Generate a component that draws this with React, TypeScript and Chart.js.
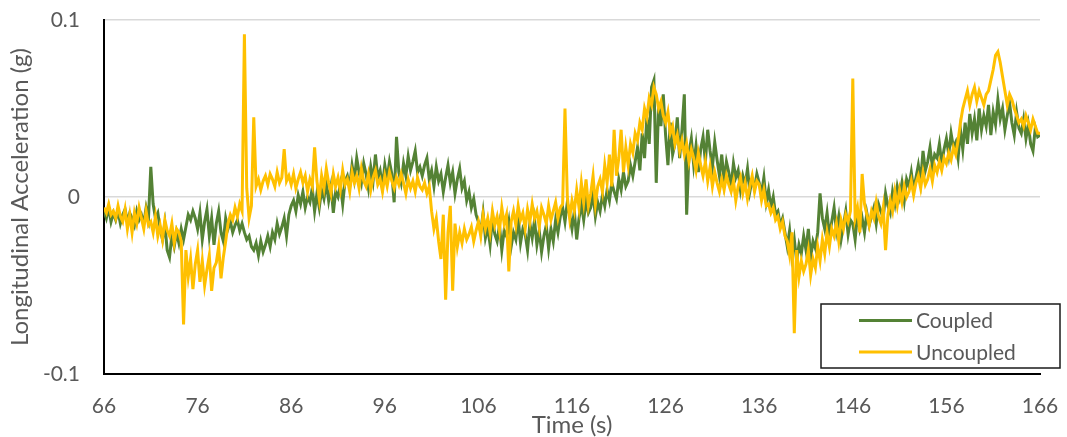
import React, { useEffect, useRef } from "react";
import { Chart, registerables } from "chart.js";

Chart.register(...registerables);

// Sampling of the traces: time of first sample and spacing (s)
const T0 = 66;
const DT = 0.25;

// Longitudinal acceleration in milli-g, one row per second (4 samples per row)
const coupledMg = [
  -8, -12, -6, -14,
  -9, -13, -8, -15,
  -10, -7, -14, -9,
  -12, -16, -8, -13,
  -10, -15, -6, -12,
  17, -4, -12, -9,
  -18, -24, -15, -30,
  -34, -22, -28, -20,
  -26, -18, -24, -17,
  -10, -13, -8, -12,
  -18, -9, -24, -14,
  -7, -22, -12, -27,
  -15, -8, -20, -25,
  -12, -18, -14, -20,
  -16, -13, -19, -15,
  -20, -24, -22, -28,
  -30, -26, -33, -25,
  -31, -27, -22, -28,
  -20, -24, -15, -21,
  -17, -12, -22, -10,
  -5, -2, -8, 1,
  -4, 3, -6, 0,
  -3, 5, -8, 2,
  -6, 4, -1, 8,
  -2, 6, -9, 3,
  0, 7, -4, 9,
  12, 6, 18, 10,
  22, 14, 8, 19,
  13, 5, 17, 9,
  24, 11, 15, 6,
  18, 10, 20, 13,
  -3, 34, 14, 8,
  19, 12, 23, 15,
  20, 26, 14, 17,
  12, 18, 22, 10,
  15, 6, 17, 9,
  13, 3, 11, 18,
  8, 14, 2, 10,
  16, 5, 9, -2,
  3, -6, -1, -10,
  -14, -20, -9, -23,
  -17, -27, -12, -21,
  -25, -16, -30, -19,
  -22, -14, -28, -20,
  -24, -12, -26, -18,
  -21, -30, -15, -23,
  -13, -27, -19, -31,
  -22, -16, -29, -18,
  -25, -13, -20, -11,
  -6, -14, -3, -10,
  -18, -8, -24, -12,
  -4, -13, -2, -9,
  -6, 2, -11, -3,
  -8, 1, -5, 4,
  -2, 8, 3, -1,
  10, 4, 14, 6,
  9, 18, 12, 20,
  28, 15, 36, 22,
  45, 30, 62, 66,
  8, 52, 40, 58,
  35, 18, 42, 24,
  30, 45, 22, 38,
  58, -10, 25, 33,
  18, 29, 14, 27,
  34, 20, 38, 26,
  17, 31, 21, 12,
  24, 9, 20, 14,
  6, 19, 11, 15,
  4, 12, 7, 16,
  3, 10, 5, 13,
  8, 2, 11, -3,
  4, -6, 0, -10,
  -8, -16, -12, -20,
  -28, -19, -33, -24,
  -36, -27, -32, -22,
  -30, -18, -34, -25,
  -29, -20, 2, -12,
  -18, -9, -22, -14,
  -6, -19, -11, -24,
  -16, -8, -21, -13,
  -15, -24, -10, -18,
  -12, -20, -9, -16,
  -11, -6, -15, -4,
  -8, -12, 2, -5,
  -9, 3, -4, 6,
  0, 8, -2, 10,
  6, 14, 4, 11,
  18, 9, 26, 15,
  20, 28, 17, 24,
  22, 30, 19, 27,
  33, 24, 36, 28,
  31, 22, 38, 27,
  42, 30, 47, 36,
  44, 32, 50, 38,
  46, 40, 52, 35,
  48, 41, 55, 44,
  50, 38, 46, 53,
  42, 35, 48, 39,
  36, 44, 33, 41,
  30, 26, 39, 34,
  35,
];

const uncoupledMg = [
  -6, -9, -4, -10,
  -8, -12, -5, -11,
  -14, -7, -18, -10,
  -20, -9, -15, -6,
  -12, -18, -8, -16,
  -14, -20, -11, -22,
  -16, -24, -13, -19,
  -22, -15, -26, -18,
  -20, -25, -72, -30,
  -45, -35, -52, -38,
  -30, -48, -36, -50,
  -41, -33, -53, -40,
  -37, -28, -46, -34,
  -25, -15, -10, -13,
  -6, -11, -4, -8,
  92, 5, -12, -5,
  45, 6, 10, 4,
  9, 12, 7, 13,
  10, 6, 14, 8,
  11, 27, 9, 12,
  7, 13, 5, 10,
  14, 8, 12, 3,
  10, 6, 28, 9,
  -1, 12, 5, 16,
  8, 2, 13, 6,
  11, 4, 15, 7,
  10, 3, 14, 8,
  12, 5, 16, 9,
  6, 13, 4, 11,
  15, 7, 10, 3,
  12, 6, 14, 9,
  5, 11, 7, 13,
  8, 2, 10, 5,
  9, 3, 11, 6,
  4, 8, 2, 6,
  -8, -18, -12, -25,
  -35, -10, -58, -20,
  -5, -53, -15, -28,
  -20, -26, -18, -24,
  -21, -17, -25, -19,
  -14, -22, -10, -18,
  -12, -20, -8, -16,
  -11, -19, -6, -15,
  -10, -42, -14, -8,
  -16, -5, -13, -9,
  -18, -7, -14, -4,
  -12, -8, -17, -6,
  -10, -15, -5, -13,
  -8, -3, -12, -6,
  -4, 50, 0, -12,
  -2, -8, 4, -6,
  8, -3, 10, -5,
  2, 12, -4, 6,
  10, 3, 18, 8,
  24, 6, 38, 12,
  22, 38, 14, 28,
  18, 30, 25, 36,
  32, 42, 38, 50,
  45, 56, 52, 62,
  58, 50, 54, 46,
  42, 48, 36, 40,
  30, 35, 26, 32,
  24, 30, 20, 27,
  22, 15, 25, 18,
  12, 20, 9, 17,
  6, 14, 8, 3,
  10, 4, 12, 7,
  3, 9, -2, 6,
  11, 2, 8, -1,
  6, 12, 3, 9,
  7, -2, 4, -5,
  -4, -9, -6, -13,
  -11, -18, -14, -22,
  -25, -33, -20, -77,
  -30, -45, -36, -42,
  -38, -30, -44, -35,
  -40, -28, -36, -24,
  -32, -20, -28, -18,
  -22, -15, -25, -13,
  -18, -10, -14, -8,
  67, -12, -6, -20,
  13, -4, -10, -16,
  -8, -12, -3, -11,
  -15, -6, -30, -10,
  -2, -8, 3, -5,
  4, -3, 6, 0,
  3, 9, 1, 8,
  12, 5, 14, 7,
  10, 16, 9, 18,
  14, 20, 15, 22,
  19, 25, 21, 28,
  24, 32, 42, 50,
  55, 60, 52, 58,
  62, 54, 60, 56,
  52, 58, 60, 66,
  72, 80, 82, 76,
  68, 60, 52, 58,
  55, 50, 46, 42,
  44, 40, 46, 42,
  38, 44, 40, 36,
  36,
];

const seriesNames = ["Coupled", "Uncoupled"];
const seriesColors = ["#548235", "#FFC000"];

const xTickValues = [66, 76, 86, 96, 106, 116, 126, 136, 146, 156, 166];
const yTickValues = [-0.1, 0, 0.1];
const yTickLabels = ["-0.1", "0", "0.1"];

const xTitle = "Time (s)";
const yTitle = "Longitudinal Acceleration (g)";

const FONT = "Lato, 'Open Sans', sans-serif";
const TEXT_COLOR = "#595959";

const W = 1067;
const H = 437;
const AREA = { left: 104, right: 1040, top: 20, bottom: 374 };

const toPoints = (mg: number[]) => mg.map((v, i) => ({ x: T0 + i * DT, y: v / 1000 }));

const boxLegend = {
  id: "boxLegend",
  afterDraw(chart: any) {
    const { ctx, chartArea } = chart;
    const left = chartArea.right - 219;
    const top = chartArea.bottom - 70;
    const w = 239;
    const h = 64;
    ctx.save();
    ctx.fillStyle = "#ffffff";
    ctx.fillRect(left, top, w, h);
    ctx.strokeStyle = "#1a1a1a";
    ctx.lineWidth = 1.5;
    ctx.strokeRect(left, top, w, h);
    ctx.font = `21px ${FONT}`;
    ctx.textBaseline = "middle";
    ctx.textAlign = "left";
    seriesNames.forEach((name, i) => {
      const y = top + 16.5 + i * 31.5;
      ctx.strokeStyle = seriesColors[i];
      ctx.lineWidth = 3;
      ctx.beginPath();
      ctx.moveTo(left + 38, y);
      ctx.lineTo(left + 91, y);
      ctx.stroke();
      ctx.fillStyle = TEXT_COLOR;
      ctx.fillText(name, left + 95, y + 1);
    });
    ctx.restore();
  },
};

export default function App() {
  const ref = useRef<HTMLCanvasElement | null>(null);

  useEffect(() => {
    const canvas = ref.current;
    if (!canvas) return;
    const chart = new Chart(canvas, {
      type: "line",
      data: {
        datasets: [
          {
            label: seriesNames[0],
            data: toPoints(coupledMg),
            borderColor: seriesColors[0],
            backgroundColor: seriesColors[0],
            borderWidth: 3,
            pointRadius: 0,
            tension: 0,
            order: 2,
          },
          {
            label: seriesNames[1],
            data: toPoints(uncoupledMg),
            borderColor: seriesColors[1],
            backgroundColor: seriesColors[1],
            borderWidth: 3,
            pointRadius: 0,
            tension: 0,
            order: 1,
          },
        ],
      },
      options: {
        animation: false,
        responsive: false,
        devicePixelRatio: 1,
        parsing: false,
        normalized: true,
        layout: { padding: { top: AREA.top, right: W - AREA.right, left: 0, bottom: 0 } },
        plugins: {
          legend: { display: false },
          tooltip: { enabled: false },
        },
        scales: {
          x: {
            type: "linear",
            min: 66,
            max: 166,
            afterBuildTicks: (s: any) => {
              s.ticks = xTickValues.map((v) => ({ value: v }));
            },
            afterFit: (s: any) => {
              s.height = H - AREA.bottom;
              s.paddingLeft = 0;
              s.paddingRight = 0;
            },
            grid: { display: false, drawTicks: false },
            border: { display: true, color: "#000000", width: 2 },
            ticks: {
              color: TEXT_COLOR,
              font: { family: FONT, size: 21 },
              padding: 20,
              maxRotation: 0,
              autoSkip: false,
              callback: (v: any) => String(v),
            },
            title: {
              display: true,
              text: xTitle,
              color: TEXT_COLOR,
              font: { family: FONT, size: 24, lineHeight: 1 },
              padding: { top: 0, bottom: 0 },
            },
          },
          y: {
            type: "linear",
            min: -0.1,
            max: 0.1,
            afterBuildTicks: (s: any) => {
              s.ticks = yTickValues.map((v) => ({ value: v }));
            },
            afterFit: (s: any) => {
              s.width = AREA.left;
              s.paddingTop = 0;
              s.paddingBottom = 0;
            },
            grid: {
              display: true,
              drawTicks: false,
              color: "#d9d9d9",
              lineWidth: 1.5,
            },
            border: { display: true, color: "#000000", width: 2 },
            ticks: {
              color: TEXT_COLOR,
              font: { family: FONT, size: 21 },
              padding: 24,
              autoSkip: false,
              callback: (_v: any, i: number) => yTickLabels[i],
            },
            title: {
              display: true,
              text: yTitle,
              color: TEXT_COLOR,
              font: { family: FONT, size: 24, lineHeight: 1 },
              padding: { top: 8, bottom: 0 },
            },
          },
        },
      },
      plugins: [boxLegend],
    });
    return () => chart.destroy();
  }, []);

  return (
    <div style={{ position: "absolute", left: 0, top: 0, width: W, height: H, background: "#fff" }}>
      <canvas ref={ref} width={W} height={H} style={{ display: "block" }} />
    </div>
  );
}
